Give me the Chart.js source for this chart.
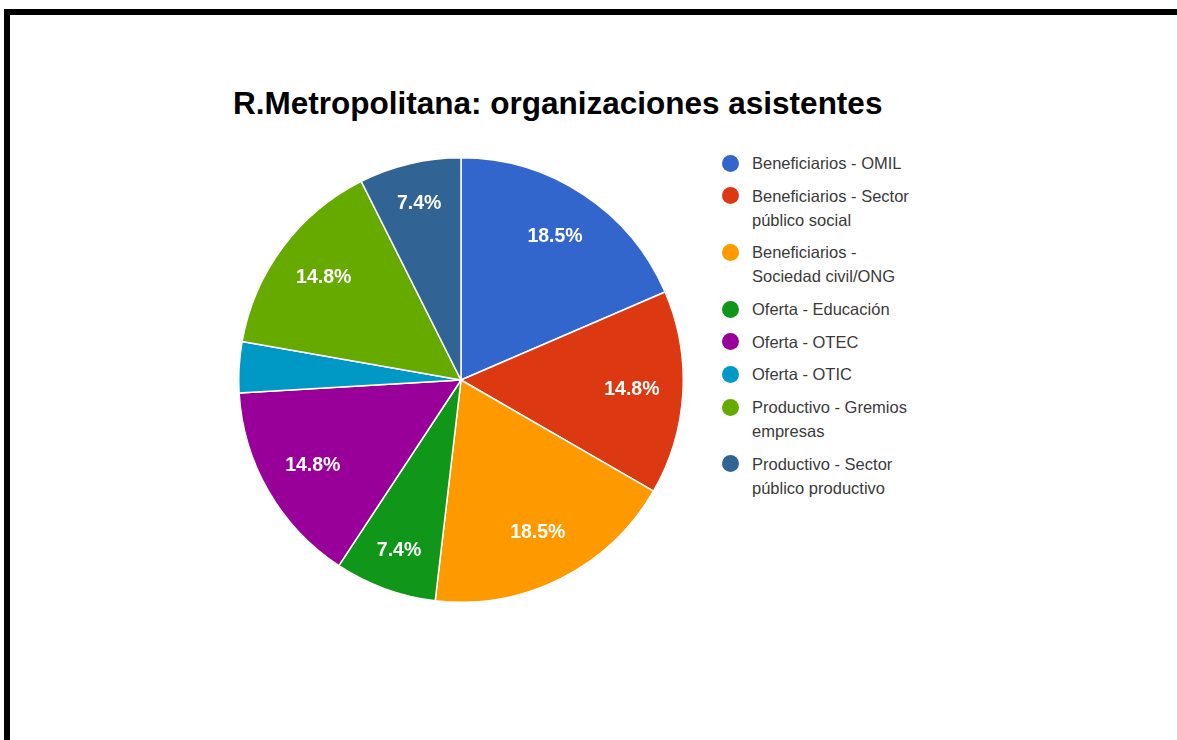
<!DOCTYPE html>
<html lang="es">
<head>
    <meta charset="UTF-8">
    <title>R.Metropolitana: organizaciones asistentes</title>
    <script src="https://cdn.jsdelivr.net/npm/chart.js"></script>
    <style>
        html, body { margin: 0; padding: 0; background: #fff; }
        body { width: 1177px; height: 740px; position: relative; overflow: hidden; font-family: "Liberation Sans", Arial, sans-serif; }
        .borde-top { position: absolute; left: 4px; top: 9px; width: 1173px; height: 6px; background: #000; }
        .borde-left { position: absolute; left: 4px; top: 9px; width: 6px; height: 731px; background: #000; }
        #titulo { position: absolute; left: 233px; top: 85px; font-size: 31.5px; font-weight: bold; line-height: 36px; color: #000; white-space: nowrap; }
        #grafico { position: absolute; left: 238px; top: 157px; width: 446px; height: 446px; }
        #leyenda { position: absolute; left: 722px; top: 151px; font-size: 16.5px; line-height: 24px; color: #3a3a3a; }
        #leyenda .item { position: relative; padding-left: 30px; margin-bottom: 8.7px; white-space: nowrap; }
        #leyenda .punto { position: absolute; left: -0.5px; top: 3.5px; width: 17px; height: 17px; border-radius: 50%; }
    </style>
</head>
<body>
    <div class="borde-top"></div>
    <div class="borde-left"></div>

    <div id="titulo">R.Metropolitana: organizaciones asistentes</div>
    <div id="grafico"><canvas id="chart"></canvas></div>
    <div id="leyenda"></div>

    <script>
        const categorias = [
            ['Beneficiarios - OMIL'],
            ['Beneficiarios - Sector', 'público social'],
            ['Beneficiarios -', 'Sociedad civil/ONG'],
            ['Oferta - Educación'],
            ['Oferta - OTEC'],
            ['Oferta - OTIC'],
            ['Productivo - Gremios', 'empresas'],
            ['Productivo - Sector', 'público productivo']
        ];
        const asistentes = [5, 4, 5, 2, 4, 1, 4, 2];
        const colores = ['#3366cc', '#dc3912', '#ff9900', '#109618', '#990099', '#0099c6', '#66aa00', '#316395'];

        // leyenda en html, para poder cortar las lineas como en el original
        const leyenda = document.getElementById('leyenda');
        categorias.forEach(function (lineas, i) {
            const item = document.createElement('div');
            item.className = 'item';
            const punto = document.createElement('span');
            punto.className = 'punto';
            punto.style.background = colores[i];
            item.appendChild(punto);
            lineas.forEach(function (l, j) {
                if (j > 0) item.appendChild(document.createElement('br'));
                item.appendChild(document.createTextNode(l));
            });
            leyenda.appendChild(item);
        });

        // porcentajes dentro de cada porcion (las chicas van un poco mas afuera)
        const etiquetas = {
            id: 'etiquetas',
            afterDatasetsDraw(chart) {
                const ctx = chart.ctx;
                const datos = chart.data.datasets[0].data;
                const total = datos.reduce((a, b) => a + b, 0);
                ctx.save();
                ctx.font = 'bold 19.5px "Liberation Sans", Arial, sans-serif';
                ctx.fillStyle = '#fff';
                ctx.textAlign = 'center';
                ctx.textBaseline = 'middle';
                chart.getDatasetMeta(0).data.forEach(function (arc, i) {
                    const pct = datos[i] / total * 100;
                    if (pct < 5) return;
                    const p = arc.getProps(['x', 'y', 'startAngle', 'endAngle', 'outerRadius'], true);
                    const medio = (p.startAngle + p.endAngle) / 2;
                    const r = p.outerRadius * (pct < 10 ? 0.815 : 0.77);
                    ctx.fillText(pct.toFixed(1) + '%', p.x + Math.cos(medio) * r, p.y + Math.sin(medio) * r);
                });
                ctx.restore();
            }
        };

        new Chart(document.getElementById('chart'), {
            type: 'pie',
            data: {
                labels: categorias,
                datasets: [{
                    data: asistentes,
                    backgroundColor: colores,
                    borderColor: '#fff',
                    borderWidth: 1.5
                }]
            },
            options: {
                responsive: true,
                maintainAspectRatio: false,
                animation: false,
                events: [],
                plugins: {
                    legend: { display: false },
                    tooltip: { enabled: false }
                }
            },
            plugins: [etiquetas]
        });
    </script>
</body>
</html>
